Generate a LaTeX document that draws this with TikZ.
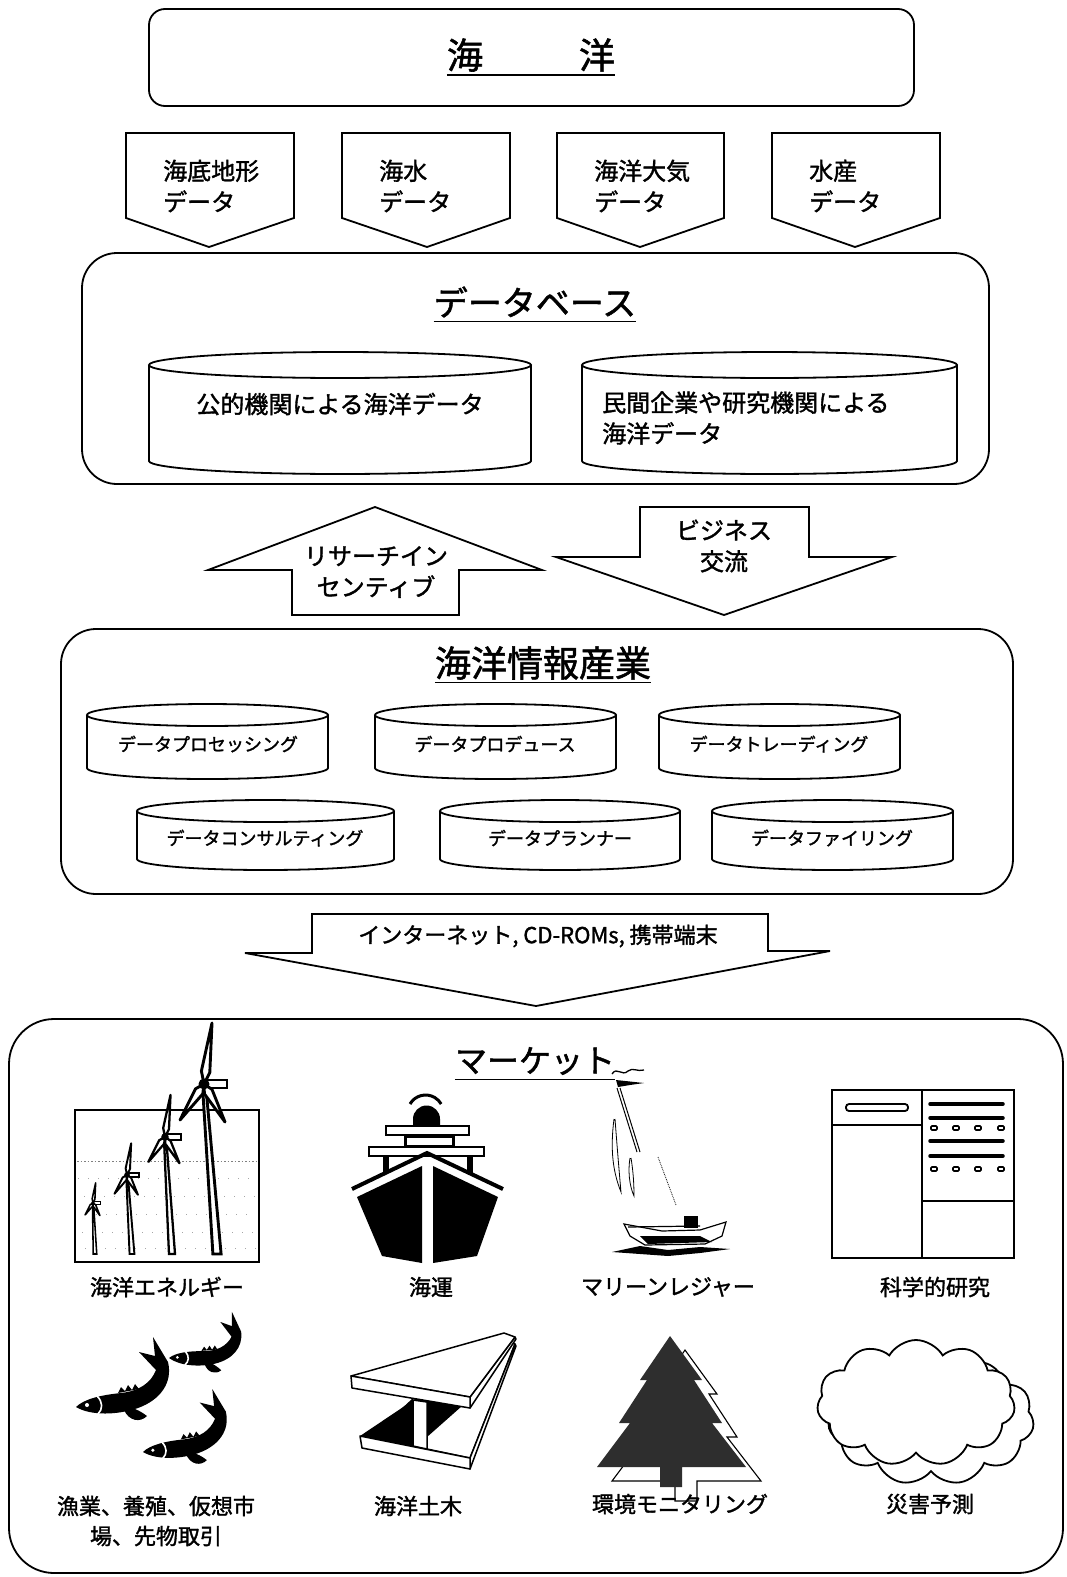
\documentclass[tikz,border=0pt]{standalone}
\usepackage{fontspec}
\setmainfont{Noto Sans CJK JP}[FakeBold=1.5]
\usetikzlibrary{shapes.symbols,calc}

% database-style cylinder: name, left x, right x, top-ellipse y, bottom-ellipse y, ellipse y-radius
\newcommand\dbcyl[6]{%
  \pgfmathsetmacro\cylcx{(#2+#3)/2}%
  \pgfmathsetmacro\cylrx{(#3-#2)/2}%
  \draw[box] (#2,#4) -- (#2,#5) arc[start angle=180,end angle=0,x radius=\cylrx,y radius=#6] -- (#3,#4);
  \draw[box] (\cylcx,#4) ellipse[x radius=\cylrx,y radius=#6];
  \coordinate (#1) at (\cylcx,{(#4+#5)/2});
}

% down-pointing data tab: name, left x, right x, tip x, label
\newcommand\datatab[5]{%
  \draw[box] (#2,133) -- (#3,133) -- (#3,218) -- (#4,247) -- (#2,218) -- cycle;
  \node[txt, anchor=west, align=left] (#1) at ({#2+37},186) {#5};
}

% offshore wind turbine: hub x, hub y, scale, foot x, foot y
\newcommand\turbine[5]{%
  \pgfmathsetmacro\tlw{0.9+2.0*#3}%
  \draw[fill=white, line width=\tlw pt] ({#1-1.6*#3},#2) -- ({#1+1.6*#3},#2) -- ({#4+3.5*#3+0.6},#5) -- ({#4-3.5*#3-0.6},#5) -- cycle;
  \begin{scope}[shift={(#1,#2)}, scale=#3]
    \draw[fill=white, line width=\tlw pt] (0,-4) -- (23,-4) -- (23,4) -- (0,4);
    \draw[fill=white, line width=\tlw pt, line join=round] (0,0) -- (-2.6,-13) -- (8,-61) -- (5.8,-11.5) -- cycle;
    \draw[fill=white, line width=\tlw pt, line join=round] (0,0) -- (-8.5,4.8) -- (-24,36) -- (-1.2,9.8) -- cycle;
    \draw[fill=white, line width=\tlw pt, line join=round] (0,0) -- (8,5.4) -- (21,38) -- (0.4,9.8) -- cycle;
    \fill (0,0) circle (5.5);
  \end{scope}
}

% leaping fish, head tip at the origin: x, y, scale, rotation
\newcommand\fish[4]{%
  \begin{scope}[shift={(#1,#2)}, scale=#3, rotate=#4]
    \fill (0,0) .. controls (8,-8) and (25,-12) .. (45,-14)
      .. controls (63,-16) and (75,-24) .. (80,-37) -- (63,-55) -- (79,-51) -- (77,-70)
      -- (92,-45) .. controls (97,-24) and (84,-7) .. (62,1)
      .. controls (42,8) and (15,9) .. (0,0) -- cycle;
    \fill (42,-14) -- (45,-20) -- (49,-16) -- (52,-22) -- (56,-17) -- (59,-23) -- (63,-18) -- cycle;
    \fill (48,3) .. controls (53,14) and (64,16) .. (71,9) .. controls (66,5) and (60,2) .. (56,1) -- cycle;
    \fill[white] (11,-2) circle (2);
    \draw[white, line width=1.6pt] (21,-11) .. controls (27,-5) and (27,2) .. (22,7);
  \end{scope}
}

\begin{document}
\begin{tikzpicture}[x=1pt, y=1pt, yscale=-1,
  box/.style={draw=black, line width=1.8pt, fill=white, line join=miter},
  txt/.style={inner sep=0pt, font=\fontsize{24}{31}\selectfont},
  small/.style={inner sep=0pt, font=\fontsize{18}{22}\selectfont},
  lbl/.style={inner sep=0pt, align=center, font=\fontsize{22}{30}\selectfont},
  ttl/.style={inner sep=0pt, font=\fontsize{#1}{#1}\selectfont},
  uline/.style={line width=1.6pt},
  steel/.style={fill=white, draw=black, line width=1.5pt, line join=round}]

\useasboundingbox (0,0) rectangle (1066,1577);
\fill[white] (0,0) rectangle (1066,1577);

% ---------- ocean ----------
\draw[box, rounded corners=16pt] (149,9) rectangle (914,106);
\node[ttl=36] (ocean) at (531,55) {海\hspace{96pt}洋};
\draw[uline] ($(ocean.base west)+(0,6)$) -- ($(ocean.base east)+(0,6)$);

% ---------- data sources ----------
\datatab{srcA}{126}{294}{209}{海底地形\\データ}
\datatab{srcB}{342}{510}{427}{海水\\データ}
\datatab{srcC}{557}{724}{640}{海洋大気\\データ}
\datatab{srcD}{772}{940}{855}{水産\\データ}

% ---------- database ----------
\draw[box, rounded corners=35pt] (82,253) rectangle (989,484);
\node[ttl=34] (dbt) at (535,302) {データベース};
\draw[uline] ($(dbt.base west)+(0,6)$) -- ($(dbt.base east)+(0,6)$);
\dbcyl{cylA}{149}{531}{365}{461}{13}
\node[txt] (pub) at (340,404) {公的機関による海洋データ};
\dbcyl{cylB}{582}{957}{365}{461}{13}
\node[txt, anchor=west, align=left] (priv) at (602,418) {民間企業や研究機関による\\海洋データ};

% ---------- exchange arrows ----------
\draw[box] (292,615) -- (292,570) -- (208,570) -- (375,507) -- (542,570) -- (459,570) -- (459,615) -- cycle;
\node[txt, align=center] (incent) at (376,572) {リサーチイン\\センティブ};
\draw[box] (640,507) -- (809,507) -- (809,557) -- (892,557) -- (724,615) -- (556,557) -- (640,557) -- cycle;
\node[txt, align=center] (biz) at (724,546) {ビジネス\\交流};

% ---------- marine information industry ----------
\draw[box, rounded corners=35pt] (61,629) rectangle (1013,894);
\node[ttl=36] (ind) at (543,663) {海洋情報産業};
\draw[uline] ($(ind.base west)+(0,6)$) -- ($(ind.base east)+(0,6)$);
\dbcyl{c1}{87}{328}{715}{768}{11}
\node[small] (t1) at (208,744) {データプロセッシング};
\dbcyl{c2}{375}{616}{715}{768}{11}
\node[small] (t2) at (495,744) {データプロデュース};
\dbcyl{c3}{659}{900}{715}{768}{11}
\node[small] (t3) at (779,744) {データトレーディング};
\dbcyl{c4}{137}{394}{811}{859}{11}
\node[small] (t4) at (265,838) {データコンサルティング};
\dbcyl{c5}{440}{680}{811}{859}{11}
\node[small] (t5) at (560,838) {データプランナー};
\dbcyl{c6}{712}{953}{811}{859}{11}
\node[small] (t6) at (832,838) {データファイリング};

% ---------- delivery arrow ----------
\draw[box] (312,914) -- (768,914) -- (768,951) -- (830,951) -- (536,1006) -- (245,953) -- (312,953) -- cycle;
\node[inner sep=0pt, font=\fontsize{22}{26}\selectfont] (net) at (538,936) {インターネット, CD-ROMs, 携帯端末};

% ---------- market ----------
\draw[box, rounded corners=45pt] (9,1019) rectangle (1063,1573);
\node[ttl=32] (mkt) at (535,1061) {マーケット};
\draw[uline] ($(mkt.base west)+(0,7)$) -- ($(mkt.base east)+(0,7)$);

% wind farm
\draw[line width=2pt] (75,1110) rectangle (259,1262);
\draw[gray, line width=0.8pt, dash pattern=on 1.5pt off 2pt] (77,1161) -- (257,1161);
\foreach \yy/\ph in {1178/0,1196/4,1214/2,1232/6,1248/3}
  \draw[gray!70, line width=0.7pt, dash pattern=on 1pt off 9pt, dash phase=\ph pt] (78,\yy) -- (256,\yy);
\turbine{93}{1203}{0.33}{95}{1254}
\turbine{127}{1175}{0.52}{132}{1254}
\turbine{165}{1137}{0.69}{172}{1254}
\turbine{204}{1084}{1}{217}{1254}

% ship, front view
\draw[line width=3pt] (410,1104) arc[start angle=210, end angle=330, radius=18];
\fill (413,1130) -- (413,1119) arc[start angle=180, end angle=360, radius=13.5] -- (440,1130) -- cycle;
\draw[line width=2.5pt, fill=white] (386,1126) rectangle (469,1135);
\draw[line width=3pt, fill=white] (405,1136) rectangle (453,1146);
\draw[line width=2.5pt, fill=white] (369,1147) rectangle (484,1156);
\fill (383,1156) rectangle (389,1173);
\fill (467,1156) rectangle (473,1173);
\draw[line width=4pt, line join=miter] (352,1189) -- (427,1153) -- (503,1189);
\fill (357,1197) -- (422,1166) -- (422,1263) -- (382,1256) -- cycle;
\fill (433,1166) -- (498,1197) -- (477,1256) -- (433,1263) -- cycle;

% sailboat
\draw[line width=1.3pt] (612,1074) .. controls (617,1066) and (622,1077) .. (628,1071) .. controls (633,1067) and (637,1072) .. (644,1070);
\fill (616,1080) -- (644,1083) -- (630,1085) -- (618,1087) -- cycle;
\draw[line width=1pt] (617,1088) -- (637,1152);
\draw[line width=1pt] (620,1088) -- (640,1152);
\draw[line width=0.8pt] (614,1119) .. controls (610,1150) and (613,1172) .. (621,1192) .. controls (619,1170) and (617,1145) .. (615,1119);
\draw[line width=0.8pt] (630,1158) .. controls (628,1170) and (629,1185) .. (634,1196) .. controls (634,1182) and (633,1170) .. (631,1158);
\draw[densely dotted, line width=0.8pt] (658,1157) -- (676,1205);
\draw[line width=1.2pt, fill=white] (624,1224) -- (662,1231) -- (700,1230) -- (726,1222) -- (722,1236) -- (705,1244) -- (645,1245) -- (630,1236) -- cycle;
\draw[line width=1.2pt] (628,1227) -- (700,1226);
\fill (684,1216) rectangle (698,1228);
\fill (640,1236) -- (700,1236) -- (712,1242) -- (648,1244) -- cycle;
\fill (612,1252) -- (640,1246) -- (668,1250) -- (700,1247) -- (730,1249) -- (700,1253) -- (668,1256) -- (640,1254) -- cycle;

% research panel
\draw[line width=2pt] (832,1090) rectangle (1014,1258);
\draw[line width=2pt] (922,1090) -- (922,1258);
\draw[line width=1.5pt] (832,1125) -- (922,1125);
\draw[line width=1.8pt, rounded corners=3pt] (846,1104) rectangle (908,1111);
\draw[line width=1.5pt] (922,1201) -- (1014,1201);
\foreach \yy in {1104,1118,1141,1156}
  \draw[line width=3.5pt, line cap=round] (930,\yy) -- (1003,\yy);
\foreach \yy in {1128,1169}
  \foreach \xx in {934,956,978,1001}
    \draw[line width=1.6pt, rounded corners=1pt] (\xx-3,\yy-2) rectangle (\xx+3,\yy+2);

% fish
\fish{76}{1407}{1}{0}
\fish{143}{1452}{0.9}{0}
\fish{169}{1358}{0.75}{6}

% steel H-beam in perspective, end section facing front
\fill (360,1436) -- (413,1447) -- (509,1343) -- (503,1340) -- cycle;
\fill (368,1440) -- (413,1398) -- (413,1447) -- cycle;
\fill (427,1402) -- (511,1338) -- (511,1343) -- (427,1449) -- cycle;
\draw[steel] (427,1449) -- (470,1458) -- (515,1344) -- (511,1343) -- (462,1405) -- (427,1436) -- cycle;
\draw[steel] (470,1458) -- (470,1469) -- (516,1346) -- (515,1344) -- cycle;
\draw[steel] (360,1436) -- (470,1458) -- (470,1469) -- (362,1448) -- cycle;
\draw[steel] (413,1400) -- (427,1402) -- (427,1449) -- (413,1446) -- cycle;
\draw[steel] (470,1397) -- (470,1408) -- (516,1339) -- (515,1337) -- cycle;
\draw[steel] (351,1376) -- (470,1397) -- (515,1337) -- (504,1333) -- cycle;
\draw[steel] (351,1376) -- (470,1397) -- (470,1408) -- (352,1388) -- cycle;

% tree
\begin{scope}[shift={(15,14)}]
  \draw[fill=white, line width=1.1pt] (670,1336) -- (702,1380) -- (694,1380) -- (722,1423) -- (712,1423) -- (746,1467) -- (682,1467) -- (682,1487) -- (660,1487) -- (660,1467) -- (597,1467) -- (630,1423) -- (619,1423) -- (647,1380) -- (640,1380) -- cycle;
\end{scope}
\fill[black!82] (670,1336) -- (702,1380) -- (694,1380) -- (722,1423) -- (712,1423) -- (746,1467) -- (682,1467) -- (682,1487) -- (660,1487) -- (660,1467) -- (597,1467) -- (630,1423) -- (619,1423) -- (647,1380) -- (640,1380) -- cycle;

% clouds
\node[cloud, cloud puffs=11, cloud puff arc=120, aspect=1.6, draw, line width=1.8pt, fill=white,
      minimum width=206pt, minimum height=132pt] (cloudB) at (931,1419) {};
\node[cloud, cloud puffs=11, cloud puff arc=120, aspect=1.6, draw, line width=1.8pt, fill=white,
      minimum width=198pt, minimum height=126pt] (cloudA) at (916,1403) {};

% market labels
\node[lbl] (m1) at (167,1287) {海洋エネルギー};
\node[lbl] (m2) at (431,1287) {海運};
\node[lbl] (m3) at (668,1287) {マリーンレジャー};
\node[lbl] (m4) at (935,1287) {科学的研究};
\node[lbl] (m5) at (156,1521) {漁業、養殖、仮想市\\場、先物取引};
\node[lbl] (m6) at (418,1506) {海洋土木};
\node[lbl] (m7) at (680,1504) {環境モニタリング};
\node[lbl] (m8) at (930,1504) {災害予測};

\end{tikzpicture}
\end{document}
